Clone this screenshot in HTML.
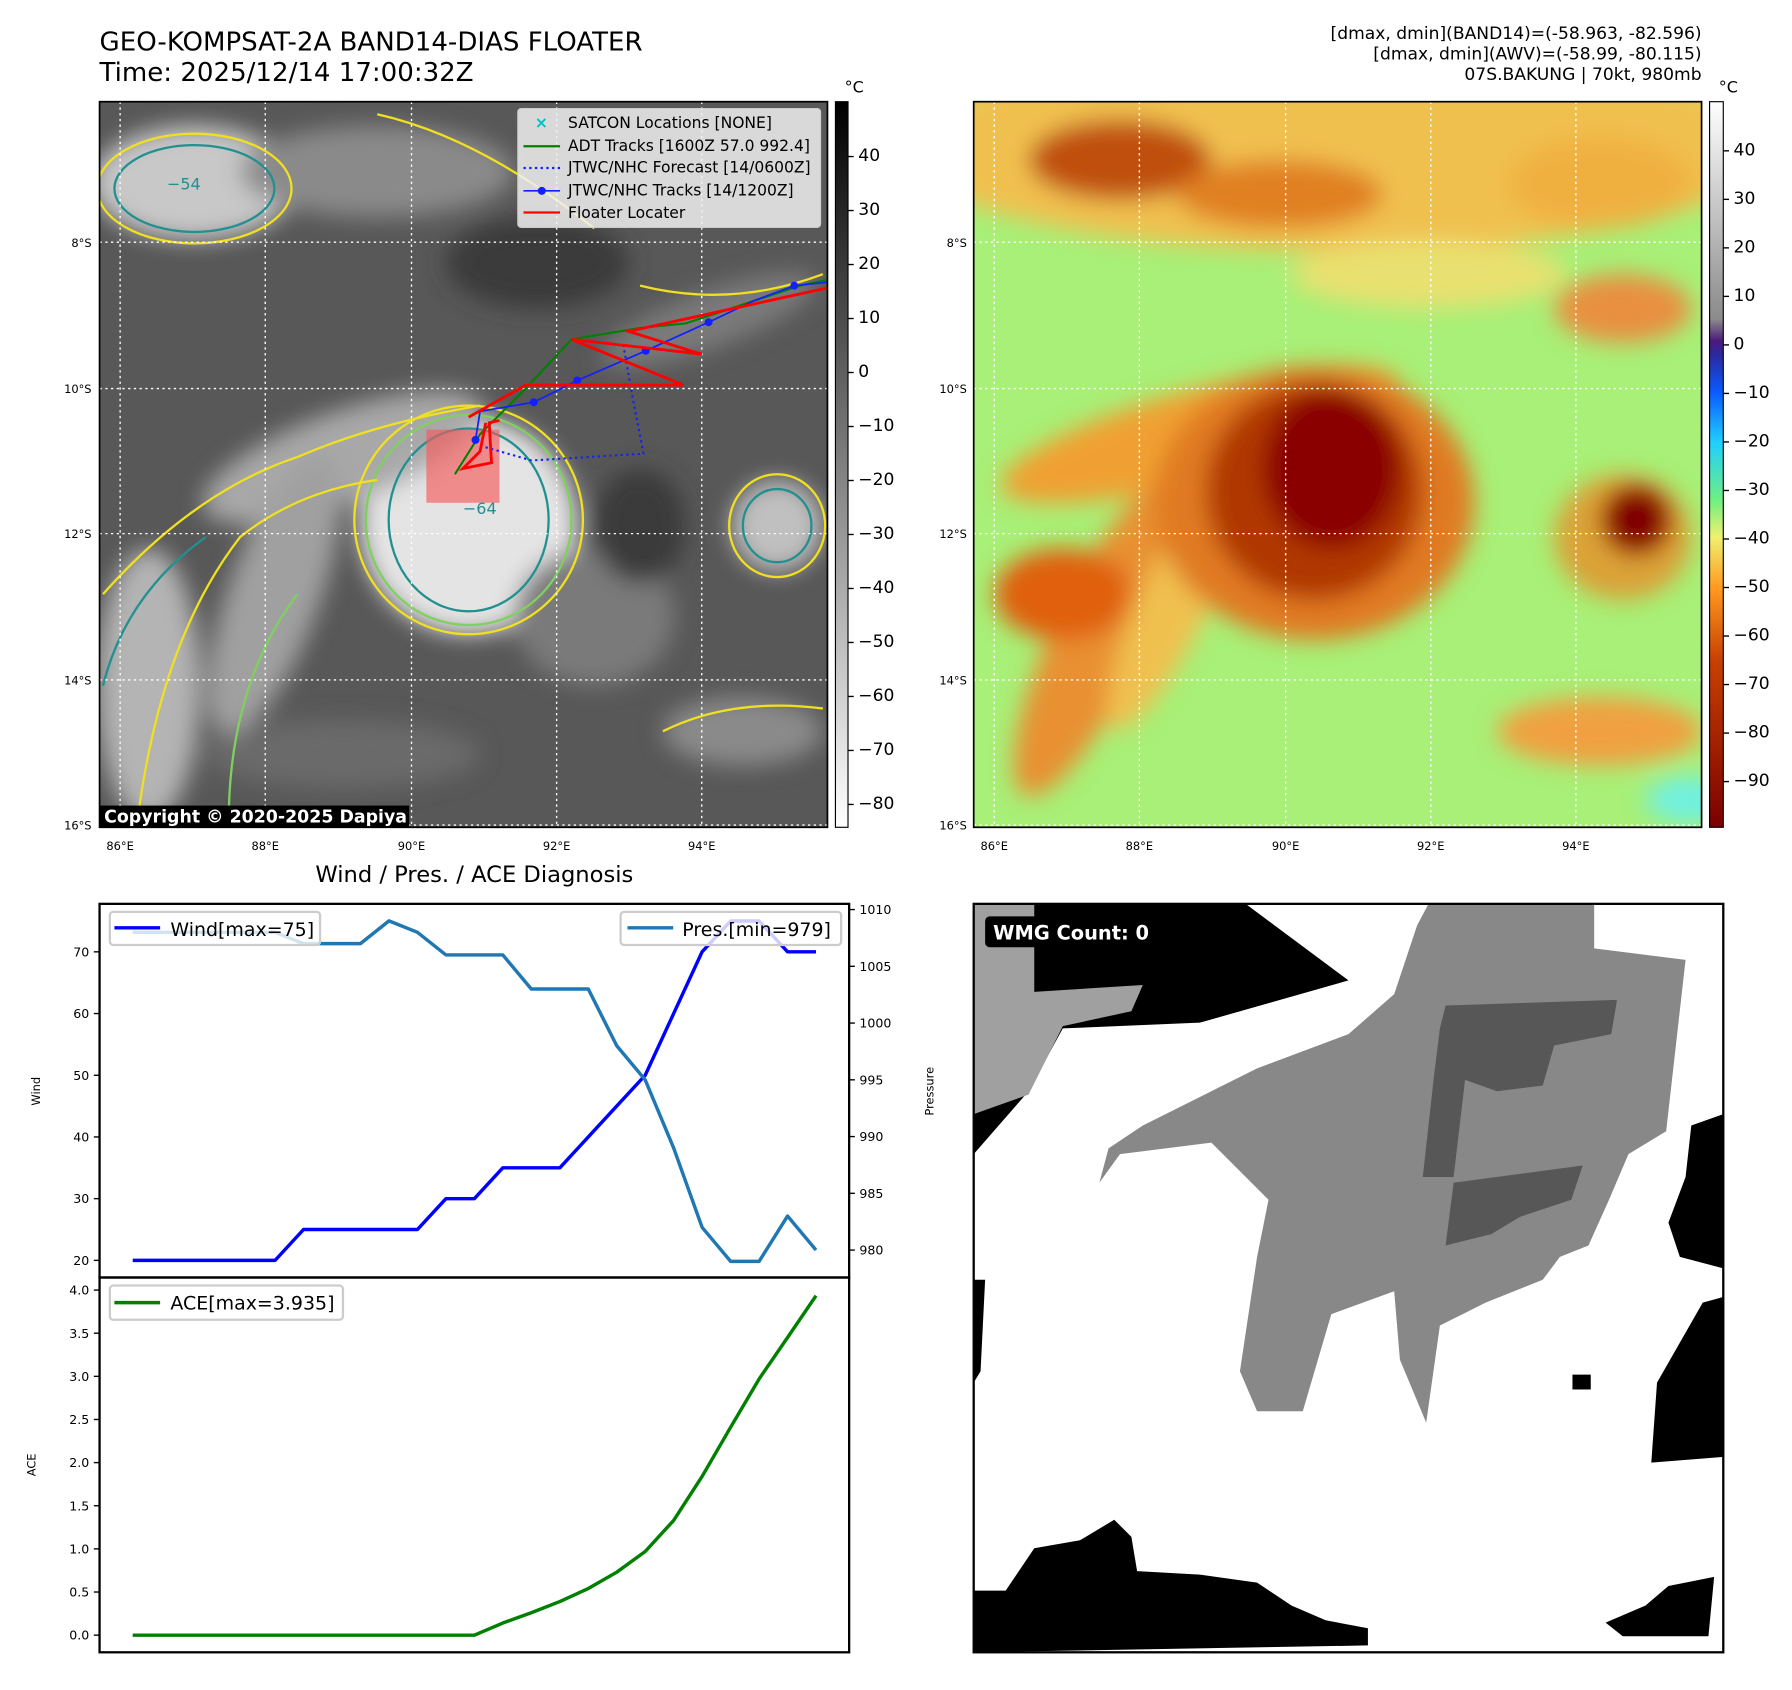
<!DOCTYPE html>
<html><head><meta charset="utf-8"><style>
html,body{margin:0;padding:0;background:#fff;width:1792px;height:1690px;overflow:hidden}
svg{display:block;font-family:"DejaVu Sans","Liberation Sans",sans-serif}
</style></head><body>
<svg id="root" width="1792" height="1690" viewBox="0 0 1568 1479" xmlns="http://www.w3.org/2000/svg">
<defs>
<filter id="b8" x="-50%" y="-50%" width="200%" height="200%"><feGaussianBlur stdDeviation="10"/></filter>
<filter id="b4" x="-50%" y="-50%" width="200%" height="200%"><feGaussianBlur stdDeviation="4"/></filter>
<clipPath id="c1"><rect x="87" y="89" width="637" height="635"/></clipPath>
<clipPath id="c2"><rect x="852" y="89" width="637" height="635"/></clipPath>
<linearGradient id="cbg" x1="0" y1="0" x2="0" y2="1"><stop offset="0" stop-color="#000"/><stop offset="1" stop-color="#fff"/></linearGradient>
<linearGradient id="cbc" x1="0" y1="0" x2="0" y2="1">
<stop offset="0" stop-color="#ffffff"/><stop offset="0.3" stop-color="#8a8a8a"/><stop offset="0.33" stop-color="#4b1a7a"/><stop offset="0.35" stop-color="#2a2aa0"/><stop offset="0.40" stop-color="#0a5aff"/><stop offset="0.47" stop-color="#20d0ff"/><stop offset="0.55" stop-color="#70f080"/><stop offset="0.60" stop-color="#f0f070"/><stop offset="0.67" stop-color="#ff9a20"/><stop offset="0.77" stop-color="#c84000"/><stop offset="1" stop-color="#7a0000"/></linearGradient>
</defs>

<text x="87" y="44" font-size="22.8">GEO-KOMPSAT-2A BAND14-DIAS FLOATER</text>
<text x="87" y="71" font-size="22.8">Time: 2025/12/14 17:00:32Z</text>
<g font-size="15" text-anchor="end">
<text x="1489" y="34">[dmax, dmin](BAND14)=(-58.963, -82.596)</text>
<text x="1489" y="52">[dmax, dmin](AWV)=(-58.99, -80.115)</text>
<text x="1489" y="70">07S.BAKUNG | 70kt, 980mb</text>
</g>

<!-- MAP 1 -->
<g clip-path="url(#c1)">
<rect x="87" y="89" width="637" height="635" fill="#585858"/>
<g filter="url(#b8)">
<ellipse cx="170" cy="160" rx="90" ry="50" fill="#c8c8c8"/>
<ellipse cx="330" cy="150" rx="120" ry="40" fill="#8a8a8a"/>
<ellipse cx="410" cy="460" rx="95" ry="95" fill="#e4e4e4"/>
<ellipse cx="300" cy="400" rx="130" ry="40" fill="#a8a8a8" transform="rotate(-20 300 400)"/>
<ellipse cx="240" cy="520" rx="40" ry="130" fill="#a0a0a0" transform="rotate(20 240 520)"/>
<ellipse cx="130" cy="600" rx="45" ry="120" fill="#b4b4b4"/>
<ellipse cx="620" cy="280" rx="100" ry="25" fill="#7a7a7a" transform="rotate(-20 620 280)"/>
<ellipse cx="680" cy="460" rx="40" ry="40" fill="#c0c0c0"/>
<ellipse cx="650" cy="640" rx="70" ry="30" fill="#8a8a8a"/>
<ellipse cx="520" cy="540" rx="70" ry="60" fill="#7a7a7a"/>
<ellipse cx="300" cy="660" rx="120" ry="30" fill="#6a6a6a"/>
<ellipse cx="470" cy="230" rx="80" ry="40" fill="#3a3a3a"/>
<ellipse cx="560" cy="460" rx="40" ry="50" fill="#3a3a3a"/>
</g>
<g fill="none" stroke-width="2">
<ellipse cx="410" cy="455" rx="100" ry="100" stroke="#f0e020"/>
<ellipse cx="410" cy="455" rx="90" ry="92" stroke="#80d060"/>
<ellipse cx="410" cy="455" rx="70" ry="80" stroke="#209090"/>
<ellipse cx="170" cy="165" rx="85" ry="48" stroke="#f0e020"/>
<ellipse cx="170" cy="165" rx="70" ry="38" stroke="#209090"/>
<ellipse cx="680" cy="460" rx="42" ry="45" stroke="#f0e020"/>
<ellipse cx="680" cy="460" rx="30" ry="32" stroke="#209090"/>
<path d="M90 520 Q170 430 260 400 Q330 370 420 355" stroke="#f0e020"/>
<path d="M120 720 Q140 560 210 470 Q260 430 330 420" stroke="#f0e020"/>
<path d="M90 600 Q110 520 180 470" stroke="#209090"/>
<path d="M200 720 Q200 600 260 520" stroke="#80d060"/>
<path d="M330 100 Q420 120 520 200" stroke="#f0e020"/>
<path d="M560 250 Q640 270 720 240" stroke="#f0e020"/>
<path d="M580 640 Q640 610 720 620" stroke="#f0e020"/>
</g>
<g stroke="#fff" stroke-width="1.2" stroke-dasharray="2,3">
<line x1="105" y1="89" x2="105" y2="724"/><line x1="232" y1="89" x2="232" y2="724"/><line x1="360" y1="89" x2="360" y2="724"/><line x1="487" y1="89" x2="487" y2="724"/><line x1="614" y1="89" x2="614" y2="724"/>
<line x1="87" y1="212" x2="724" y2="212"/><line x1="87" y1="340" x2="724" y2="340"/><line x1="87" y1="467" x2="724" y2="467"/><line x1="87" y1="595" x2="724" y2="595"/><line x1="87" y1="722" x2="724" y2="722"/>
</g>
<rect x="373" y="376" width="64" height="64" fill="rgba(245,90,90,0.65)"/>
<polyline points="398,415 420,380 460,340 500,297 560,287 600,283 700,250 724,245" fill="none" stroke="#008000" stroke-width="1.8"/>
<polyline points="420,390 465,403 563,397 553,345 545,300" fill="none" stroke="#1020ff" stroke-width="1.8" stroke-dasharray="2,3"/>
<polyline points="416,385 420,360 467,352 505,333 565,307 620,282 660,263 695,250 724,247" fill="none" stroke="#1020ff" stroke-width="1.5"/>
<g fill="#1020ff"><circle cx="467" cy="352" r="3.5"/><circle cx="505" cy="333" r="3.5"/><circle cx="565" cy="307" r="3.5"/><circle cx="620" cy="282" r="3.5"/><circle cx="695" cy="250" r="3.5"/><circle cx="416" cy="385" r="3.5"/></g>
<polyline points="410,365 460,337 598,337 500,297 614,310 550,290 724,252" fill="none" stroke="#ff0000" stroke-width="2.5"/>
<polyline points="425,370 420,395 405,410 430,405 428,370 437,368" fill="none" stroke="#ff0000" stroke-width="2.5"/>
<text x="405" y="450" font-size="14" fill="#209090">−64</text>
<text x="146" y="166" font-size="14" fill="#209090">−54</text>
</g>
<rect x="87" y="89" width="637" height="635" fill="none" stroke="#000" stroke-width="1.5"/>
<g>
<rect x="453" y="95" width="265" height="104" rx="3" fill="rgba(240,240,240,0.85)" stroke="#ccc"/>
<g font-size="13.6">
<text x="468" y="112" fill="#00c0c0" font-weight="bold">×</text><text x="497" y="112">SATCON Locations [NONE]</text>
<line x1="458" y1="128" x2="490" y2="128" stroke="#008000" stroke-width="2"/><text x="497" y="132">ADT Tracks [1600Z 57.0 992.4]</text>
<line x1="458" y1="147" x2="490" y2="147" stroke="#1020ff" stroke-width="2" stroke-dasharray="2,3"/><text x="497" y="151">JTWC/NHC Forecast [14/0600Z]</text>
<line x1="458" y1="167" x2="490" y2="167" stroke="#1020ff" stroke-width="1.5"/><circle cx="474" cy="167" r="3.5" fill="#1020ff"/><text x="497" y="171">JTWC/NHC Tracks [14/1200Z]</text>
<line x1="458" y1="186" x2="490" y2="186" stroke="#ff0000" stroke-width="2"/><text x="497" y="191">Floater Locater</text>
</g></g>
<rect x="87" y="705" width="271" height="19" fill="#000"/>
<text x="91" y="720" font-size="15.2" font-weight="bold" fill="#fff">Copyright © 2020-2025 Dapiya</text>
<g font-size="10" text-anchor="end">
<text x="80" y="216">8°S</text><text x="80" y="344">10°S</text><text x="80" y="471">12°S</text><text x="80" y="599">14°S</text><text x="80" y="726">16°S</text></g>
<g font-size="10" text-anchor="middle">
<text x="105" y="744">86°E</text><text x="232" y="744">88°E</text><text x="360" y="744">90°E</text><text x="487" y="744">92°E</text><text x="614" y="744">94°E</text></g>
<rect x="731" y="89" width="11" height="635" fill="url(#cbg)" stroke="#000" stroke-width="1"/>
<text x="739" y="81" font-size="14">°C</text>
<g id="cb1" font-size="15"></g>

<!-- MAP 2 -->
<g clip-path="url(#c2)">
<rect x="852" y="89" width="637" height="635" fill="#a8f078"/>
<g filter="url(#b8)">
<ellipse cx="1170" cy="130" rx="380" ry="90" fill="#f0c050"/>
<ellipse cx="980" cy="140" rx="80" ry="35" fill="#c05010"/>
<ellipse cx="1120" cy="170" rx="90" ry="30" fill="#e08020"/>
<ellipse cx="1400" cy="160" rx="80" ry="40" fill="#f0b040"/>
<ellipse cx="1250" cy="240" rx="120" ry="30" fill="#e8e070"/>
<ellipse cx="1050" cy="380" rx="180" ry="40" fill="#f0a030" transform="rotate(-15 1050 380)"/>
<ellipse cx="960" cy="560" rx="40" ry="150" fill="#e89030" transform="rotate(25 960 560)"/>
<ellipse cx="1030" cy="520" rx="30" ry="130" fill="#f0c050" transform="rotate(25 1030 520)"/>
<ellipse cx="1150" cy="440" rx="140" ry="120" fill="#e07a20"/>
<ellipse cx="1150" cy="430" rx="95" ry="95" fill="#b03800"/>
<ellipse cx="1165" cy="410" rx="60" ry="70" fill="#8a0000"/>
<ellipse cx="1420" cy="470" rx="60" ry="55" fill="#f08020" opacity="0.7"/>
<ellipse cx="1432" cy="455" rx="30" ry="30" fill="#800000"/>
<ellipse cx="1400" cy="640" rx="90" ry="30" fill="#f0a040"/>
<ellipse cx="1420" cy="270" rx="60" ry="30" fill="#e89040"/>
<ellipse cx="930" cy="520" rx="60" ry="40" fill="#e06010"/>
<ellipse cx="1480" cy="700" rx="40" ry="20" fill="#70f0e0"/>
</g>
<g stroke="#fff" stroke-width="1.2" stroke-dasharray="2,3">
<line x1="870" y1="89" x2="870" y2="724"/><line x1="997" y1="89" x2="997" y2="724"/><line x1="1125" y1="89" x2="1125" y2="724"/><line x1="1252" y1="89" x2="1252" y2="724"/><line x1="1379" y1="89" x2="1379" y2="724"/>
<line x1="852" y1="212" x2="1489" y2="212"/><line x1="852" y1="340" x2="1489" y2="340"/><line x1="852" y1="467" x2="1489" y2="467"/><line x1="852" y1="595" x2="1489" y2="595"/><line x1="852" y1="722" x2="1489" y2="722"/>
</g></g>
<rect x="852" y="89" width="637" height="635" fill="none" stroke="#000" stroke-width="1.5"/>
<g font-size="10" text-anchor="end">
<text x="846" y="216">8°S</text><text x="846" y="344">10°S</text><text x="846" y="471">12°S</text><text x="846" y="599">14°S</text><text x="846" y="726">16°S</text></g>
<g font-size="10" text-anchor="middle">
<text x="870" y="744">86°E</text><text x="997" y="744">88°E</text><text x="1125" y="744">90°E</text><text x="1252" y="744">92°E</text><text x="1379" y="744">94°E</text></g>
<rect x="1496" y="89" width="12" height="635" fill="url(#cbc)" stroke="#000" stroke-width="1"/>
<text x="1504" y="81" font-size="14">°C</text>
<g id="cb2" font-size="15"></g>

<text x="415" y="772" font-size="19.8" text-anchor="middle">Wind / Pres. / ACE Diagnosis</text>
<g id="diag"></g>
<rect x="87" y="791" width="656" height="327" fill="none" stroke="#000" stroke-width="2"/>
<rect x="87" y="1118" width="656" height="328" fill="none" stroke="#000" stroke-width="2"/>
<text transform="translate(35 955) rotate(-90)" font-size="10" text-anchor="middle">Wind</text>
<text transform="translate(817 955) rotate(-90)" font-size="10" text-anchor="middle">Pressure</text>
<text transform="translate(31 1282) rotate(-90)" font-size="10" text-anchor="middle">ACE</text>
<g>
<rect x="96" y="798" width="184" height="29" rx="3" fill="rgba(255,255,255,0.8)" stroke="#ccc" stroke-width="2"/>
<line x1="100" y1="812" x2="140" y2="812" stroke="#0000ff" stroke-width="3"/><text x="149" y="819" font-size="16.6">Wind[max=75]</text></g>
<g>
<rect x="543" y="798" width="193" height="29" rx="3" fill="rgba(255,255,255,0.8)" stroke="#ccc" stroke-width="2"/>
<line x1="549" y1="812" x2="589" y2="812" stroke="#1f77b4" stroke-width="3"/><text x="597" y="819" font-size="16.6">Pres.[min=979]</text></g>
<g>
<rect x="96" y="1125" width="204" height="30" rx="3" fill="rgba(255,255,255,0.8)" stroke="#ccc" stroke-width="2"/>
<line x1="100" y1="1140" x2="140" y2="1140" stroke="#008000" stroke-width="3"/><text x="149" y="1146" font-size="16.6">ACE[max=3.935]</text></g>

<g>
<rect x="852" y="791" width="656" height="655" fill="#fff"/>
<polygon points="852,791 1090,791 1180,858 1050,895 930,900 900,955 852,1010" fill="#000"/>
<polygon points="852,791 905,791 905,868 1000,862 990,885 930,898 900,958 852,975" fill="#a0a0a0"/>
<polygon points="1250,791 1395,791 1395,830 1475,840 1458,990 1425,1010 1408,1050 1390,1090 1365,1100 1350,1120 1300,1140 1260,1160 1248,1245 1225,1190 1220,1130 1165,1150 1140,1235 1100,1235 1085,1200 1100,1100 1110,1050 1060,1000 980,1010 962,1035 970,1005 1000,985 1060,955 1100,935 1180,905 1220,870 1240,810" fill="#888"/>
<polygon points="1265,880 1415,875 1410,905 1360,915 1350,950 1310,955 1282,945 1272,1030 1245,1030 1255,940 1260,900" fill="#575757"/>
<polygon points="1272,1035 1385,1020 1375,1050 1330,1065 1305,1080 1265,1090" fill="#575757"/>
<polygon points="1480,985 1508,975 1508,1110 1470,1100 1460,1070 1475,1030" fill="#000"/>
<polygon points="1490,1140 1508,1135 1508,1275 1445,1280 1450,1210 1470,1175" fill="#000"/>
<rect x="1376" y="1203" width="16" height="13" fill="#000"/>
<polygon points="852,1120 862,1120 858,1200 852,1210" fill="#000"/>
<polygon points="852,1392 880,1392 905,1355 945,1348 975,1330 990,1345 995,1375 1050,1378 1100,1385 1130,1405 1160,1418 1197,1425 1197,1440 852,1446" fill="#000"/>
<polygon points="1405,1420 1440,1405 1460,1388 1500,1380 1495,1432 1420,1432" fill="#000"/>
<rect x="852" y="791" width="656" height="655" fill="none" stroke="#000" stroke-width="2"/>
<rect x="862" y="802" width="158" height="27" rx="4" fill="#000"/>
<text x="869" y="822" font-size="17" font-weight="bold" fill="#fff">WMG Count: 0</text>
</g>

<script>
const wind = [20,20,20,20,20,20,25,25,25,25,25,30,30,35,35,35,40,45,50,60,70,75,75,70,70];
const pressure = [1008,1008,1008,1008,1008,1008,1007,1007,1007,1009,1008,1006,1006,1006,1003,1003,1003,998,995,989,982,979,979,983,980];
const ace = [0,0,0,0,0,0,0,0,0,0,0,0,0,0.14,0.26,0.39,0.54,0.73,0.97,1.33,1.84,2.41,2.97,3.45,3.935];
const windTicks = [20,30,40,50,60,70];
const presTicks = [980,985,990,995,1000,1005,1010];
const aceTicks = [0.0,0.5,1.0,1.5,2.0,2.5,3.0,3.5,4.0];
const cb1Ticks = [40,30,20,10,0,-10,-20,-30,-40,-50,-60,-70,-80];
const cb2Ticks = [40,30,20,10,0,-10,-20,-30,-40,-50,-60,-70,-80,-90];

const NS='http://www.w3.org/2000/svg';
const xS = i => 116 + i*(714-116)/(wind.length-1);
const yW = v => 1103 + (v-20)*(833-1103)/50;
const yP = v => 1094 + (v-980)*(796-1094)/30;
const yA = v => 1431 + v*(1129-1431)/4;
const yC1 = v => 137 + (40-v)*(704-137)/120;
const yC2 = v => 132 + (40-v)*(684-132)/130;
function mk(tag, attrs, parent){const e=document.createElementNS(NS,tag);for(const k in attrs)e.setAttribute(k,attrs[k]);parent.appendChild(e);return e;}
const diag=document.getElementById('diag');
function line(arr, yf, color, name){
  const p=mk('polyline',{points:arr.map((v,i)=>xS(i).toFixed(1)+','+yf(v).toFixed(1)).join(' '),fill:'none',stroke:color,'stroke-width':3,'stroke-linejoin':'round'},diag);
  
  
}
line(wind,yW,'#0000ff','wind-line');
line(pressure,yP,'#1f77b4','pressure-line');
line(ace,yA,'#008000','ace-line');
function ticks(arr, yf, x, side, fmt, parent, nm){
  arr.forEach(v=>{
    const y=yf(v);
    const l=mk('line',{x1:x,x2:x+(side<0?-5:5),y1:y,y2:y,stroke:'#000','stroke-width':1.2},parent);
    
    
    const t=mk('text',{x:x+(side<0?-9:9),y:y+4,'font-size':parent===diag?11:15,'text-anchor':side<0?'end':'start'},parent);
    t.textContent=fmt(v);
    
    
  });
}
ticks(windTicks,yW,87,-1,v=>String(v),diag,'wind');
ticks(presTicks,yP,743,1,v=>String(v),diag,'pressure');
ticks(aceTicks,yA,87,-1,v=>v.toFixed(1),diag,'ace');
const m=v=>v<0?'−'+Math.abs(v):String(v);
ticks(cb1Ticks,yC1,742,1,m,document.getElementById('cb1'),'colorbar1');
ticks(cb2Ticks,yC2,1508,1,m,document.getElementById('cb2'),'colorbar2');
</script>
</svg>
</body></html>
